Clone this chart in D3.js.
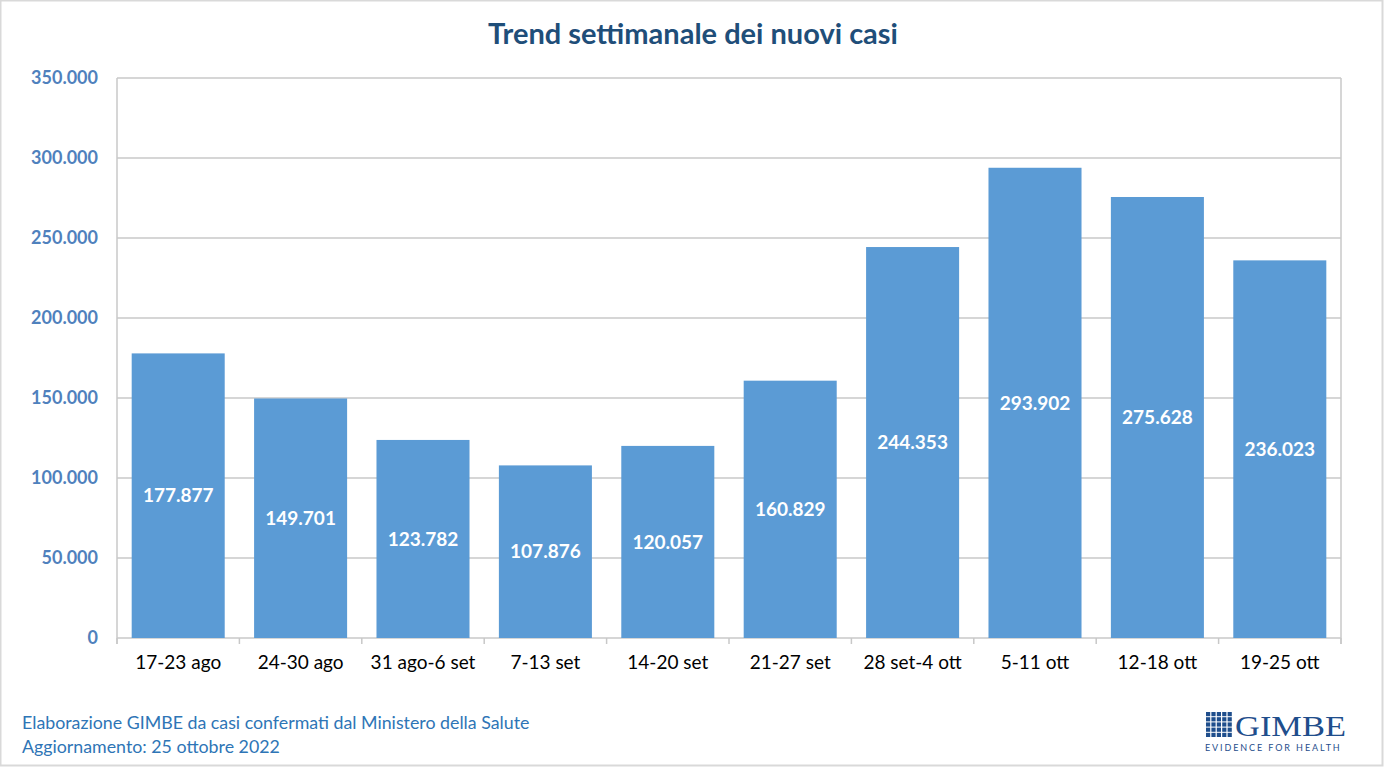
<!DOCTYPE html>
<html><head><meta charset="utf-8">
<script src="https://cdn.jsdelivr.net/npm/d3@7/dist/d3.min.js"></script>
<style>body{margin:0;background:#fff}svg{display:block}</style>
</head><body>
<svg id="c" width="1384" height="767"></svg>
<script>
const categories = ["17-23 ago","24-30 ago","31 ago-6 set","7-13 set","14-20 set","21-27 set","28 set-4 ott","5-11 ott","12-18 ott","19-25 ott"];
const values = [177877,149701,123782,107876,120057,160829,244353,293902,275628,236023];
const yTicks = [0,50000,100000,150000,200000,250000,300000,350000];

const svg = d3.select("#c");
const W = 1384, H = 767;
const m = {left:117, right:43, top:78, bottom:129};
const fmt = v => d3.format(",")(v).replace(/,/g,".");
const font = "Lato, 'Open Sans', sans-serif";

svg.append("rect").attr("x",0.5).attr("y",0.5).attr("width",W-2).attr("height",H-2)
  .attr("fill","#fff").attr("stroke","#d9d9d9").attr("stroke-width",2);

const x = d3.scaleBand().domain(categories).range([m.left, W-m.right]).paddingInner(0.24).paddingOuter(0.12);
const y = d3.scaleLinear().domain([0,350000]).range([H-m.bottom, m.top]);

// gridlines
svg.append("g").selectAll("line").data(yTicks).join("line")
  .attr("x1",m.left).attr("x2",W-m.right)
  .attr("y1",d=>y(d)).attr("y2",d=>y(d))
  .attr("stroke","#c8c8c8").attr("stroke-width",1.5);
svg.append("line").attr("x1",m.left).attr("x2",m.left).attr("y1",m.top).attr("y2",H-m.bottom+6).attr("stroke","#c8c8c8").attr("stroke-width",1.5);
svg.append("line").attr("x1",W-m.right).attr("x2",W-m.right).attr("y1",m.top).attr("y2",H-m.bottom+6).attr("stroke","#c8c8c8").attr("stroke-width",1.5);

// x axis
const xAxis = d3.axisBottom(x).tickSize(0).tickPadding(18);
const gx = svg.append("g").attr("transform",`translate(0,${H-m.bottom})`).call(xAxis);
gx.select(".domain").remove();
gx.selectAll("text").attr("font-family",font).attr("font-size",19).attr("fill","#000");
const bounds = d3.range(categories.length+1).map(i => m.left + i*((W-m.right-m.left)/categories.length));
svg.append("g").selectAll("line").data(bounds).join("line")
  .attr("x1",d=>d).attr("x2",d=>d).attr("y1",H-m.bottom).attr("y2",H-m.bottom+6)
  .attr("stroke","#c8c8c8").attr("stroke-width",1.5);

// y axis labels
const yAxis = d3.axisLeft(y).tickValues(yTicks).tickFormat(fmt).tickSize(0).tickPadding(19);
const gy = svg.append("g").attr("transform",`translate(${m.left},0)`).call(yAxis);
gy.select(".domain").remove();
gy.selectAll("text").attr("font-family",font).attr("font-size",18).attr("font-weight","bold").attr("fill","#4f81bd");

// bars
svg.append("g").selectAll("rect").data(values).join("rect")
  .attr("x",(d,i)=>x(categories[i])).attr("width",x.bandwidth())
  .attr("y",d=>y(d)).attr("height",d=>y(0)-y(d)).attr("fill","#5b9bd5");

svg.append("g").selectAll("text").data(values).join("text")
  .attr("x",(d,i)=>x(categories[i])+x.bandwidth()/2)
  .attr("y",d=>(y(d)+y(0))/2).attr("dy","0.35em")
  .attr("text-anchor","middle").attr("font-family",font).attr("font-size",19).attr("font-weight","bold")
  .attr("fill","#fff").text(fmt);

// title
svg.append("text").attr("x",693).attr("y",44).attr("text-anchor","middle")
  .attr("font-family",font).attr("font-size",29).attr("font-weight","bold").attr("fill","#1f4e79")
  .text("Trend settimanale dei nuovi casi");

// footer
svg.append("text").attr("x",22).attr("y",729).attr("font-family",font).attr("font-size",17.8).attr("fill","#2e75b6")
  .text("Elaborazione GIMBE da casi confermati dal Ministero della Salute");
svg.append("text").attr("x",22).attr("y",753).attr("font-family",font).attr("font-size",17.8).attr("fill","#2e75b6")
  .text("Aggiornamento: 25 ottobre 2022");

// logo
const lg = svg.append("g");
const cells = [];
for (let r=0;r<5;r++) for (let c=0;c<5;c++) cells.push([r,c]);
lg.selectAll("rect").data(cells).join("rect")
  .attr("x",d=>1206+d[1]*5.4).attr("y",d=>712+d[0]*5.2).attr("width",4.2).attr("height",4.2).attr("fill","#1f4e8c");
lg.append("text").attr("x",1235).attr("y",736).attr("font-family","'Liberation Serif', serif").attr("font-size",29)
  .attr("fill","#1f4e8c").attr("textLength",111).attr("lengthAdjust","spacingAndGlyphs").text("GIMBE");
lg.append("text").attr("x",1205).attr("y",751).attr("font-family",font).attr("font-size",9)
  .attr("fill","#1f4e8c").attr("letter-spacing",1.9).text("EVIDENCE FOR HEALTH");
</script>
</body></html>
